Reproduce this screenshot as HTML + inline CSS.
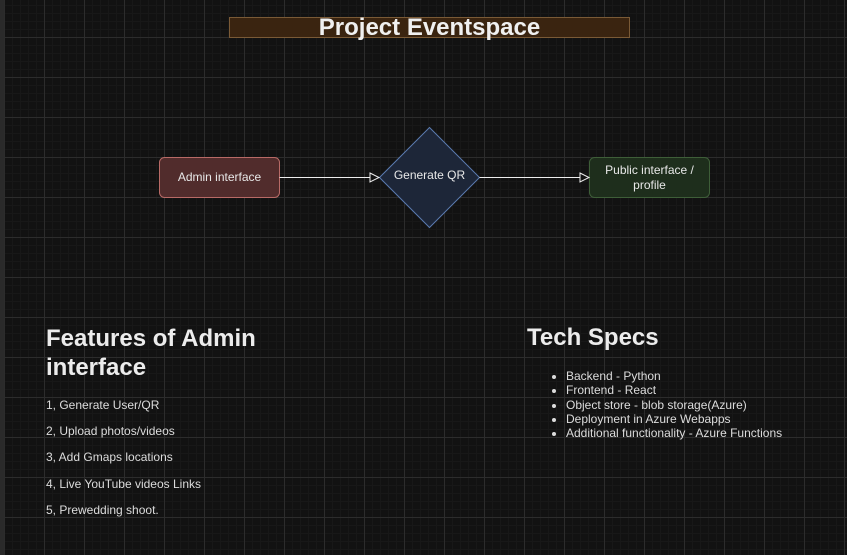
<!DOCTYPE html>
<html><head><style>
body{margin:0;width:847px;height:555px;overflow:hidden;background:#121212;font-family:"Liberation Sans",sans-serif;position:relative;
background-image:linear-gradient(#2c2c2c 1px,transparent 1px),linear-gradient(90deg,#2c2c2c 1px,transparent 1px),linear-gradient(#181818 1px,transparent 1px),linear-gradient(90deg,#181818 1px,transparent 1px);
background-size:40px 40px,40px 40px,8px 8px,8px 8px;background-position:0 37px,4px 0,0 5px,4px 0;}
.abs{position:absolute;color:#f0f0f0}
</style></head><body>
<div style="position:absolute;left:0;top:0;width:4px;height:555px;background:#2a2a2a"></div>
<div class="abs" style="left:229px;top:17px;width:399px;height:19px;background:#3a2410;border:1px solid #7a5a36;font-weight:bold;font-size:24px;line-height:19px;text-align:center">Project Eventspace</div>
<svg style="position:absolute;left:0;top:0" width="847" height="555">
<rect x="159.5" y="157.5" width="120" height="40" rx="5" fill="#512c2c" stroke="#b86a66"/>
<polygon points="429.5,127.5 479.5,177.5 429.5,227.5 379.5,177.5" fill="#1d2638" stroke="#5b7bb0"/>
<rect x="589.5" y="157.5" width="120" height="40" rx="5" fill="#1e2e1c" stroke="#3e5e38"/>
<line x1="279.5" y1="177.5" x2="370" y2="177.5" stroke="#eee"/>
<polygon points="370,173 379,177.5 370,182" fill="#121212" stroke="#eee"/>
<line x1="479.5" y1="177.5" x2="580" y2="177.5" stroke="#eee"/>
<polygon points="580,173 589,177.5 580,182" fill="#121212" stroke="#eee"/>
<g font-family="Liberation Sans" font-size="12" fill="#e8e8e8" text-anchor="middle">
<text x="219.5" y="181">Admin interface</text>
<text x="429.5" y="179">Generate QR</text>
<text x="649.5" y="174">Public interface /</text>
<text x="649.5" y="189">profile</text>
</g></svg>
<div class="abs" style="left:46px;top:324px;font-size:24px;font-weight:bold;line-height:29px;color:#ececec">Features of Admin<br>interface</div>
<div class="abs" style="left:46px;top:392px;font-size:12px;line-height:26.2px;color:#dcdcdc">1, Generate User/QR<br>2, Upload photos/videos<br>3, Add Gmaps locations<br>4, Live YouTube videos Links<br>5, Prewedding shoot.</div>
<div class="abs" style="left:527px;top:323px;font-size:24px;font-weight:bold;line-height:29px;color:#ececec">Tech Specs</div>
<ul class="abs" style="left:527px;top:369px;margin:0;padding-left:39px;font-size:12px;line-height:14.3px;color:#dcdcdc">
<li>Backend - Python</li><li>Frontend - React</li><li>Object store - blob storage(Azure)</li><li>Deployment in Azure Webapps</li><li>Additional functionality - Azure Functions</li></ul>
</body></html>
